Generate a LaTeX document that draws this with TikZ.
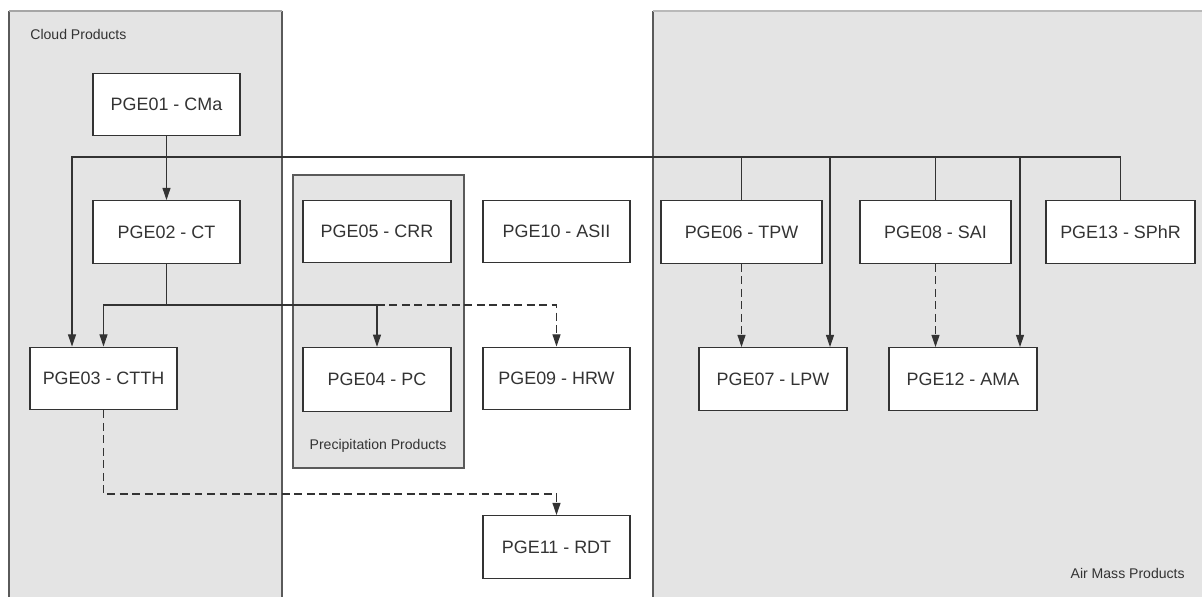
\documentclass[tikz,border=0pt]{standalone}
\usepackage{fontspec}
\setmainfont{Liberation Sans}
\usetikzlibrary{arrows.meta}

\definecolor{panelgray}{HTML}{E4E4E4}
\definecolor{edgegray}{HTML}{5A5A5A}
\definecolor{inkgray}{HTML}{333333}

\tikzset{
  pgebox/.style={draw=inkgray,fill=white,line width=0.8pt,inner sep=0pt,
    minimum width=2.94cm,minimum height=1.25cm,text=inkgray,
    font=\fontsize{10.2}{12}\selectfont},
  grouplabel/.style={inner sep=0pt,text=inkgray,font=\fontsize{8}{10}\selectfont},
  arr/.style={draw=inkgray,line width=0.65pt,-{Triangle[length=7pt,width=4.6pt]}},
  dasharr/.style={arr,dash pattern=on 4.5pt off 2.6pt},
  link/.style={draw=inkgray,line width=0.65pt}
}

\begin{document}
\begin{tikzpicture}[x=0.02cm,y=-0.02cm]
\useasboundingbox (0,0) rectangle (1202,597);

% group panels
\fill[panelgray] (9,11) rectangle (282,597);
\draw[edgegray,line width=0.8pt] (9,597) -- (9,11);
\draw[edgegray,line width=0.8pt] (282,11) -- (282,597);
\draw[gray!70,line width=0.8pt] (9,11) -- (282,11);
\fill[panelgray] (653,11) rectangle (1202,597);
\draw[edgegray,line width=0.8pt] (653,597) -- (653,11);
\draw[gray!55,line width=0.8pt] (653,11) -- (1202,11);
\draw[edgegray,fill=panelgray,line width=0.8pt] (293,175) rectangle (464,468);

\node[grouplabel,anchor=west] (cloudlbl) at (30,34) {Cloud Products};
\node[grouplabel] (preclbl) at (378,446) {Precipitation Products};
\node[grouplabel,anchor=east] (airlbl) at (1185,573) {Air Mass Products};

%---------------------------------

\node[pgebox] (pge01) at (166.5,104.5) {PGE01 - CMa};
\node[pgebox] (pge02) at (166.5,232) {PGE02 - CT};
\node[pgebox] (pge03) at (103.5,378.5) {PGE03 - CTTH};
\node[pgebox,minimum width=2.96cm] (pge05) at (377,231.5) {PGE05 - CRR};
\node[pgebox,minimum width=2.96cm,minimum height=1.28cm] (pge04) at (377,379.5) {PGE04 - PC};
\node[pgebox] (pge10) at (556.5,231.5) {PGE10 - ASII};
\node[pgebox] (pge09) at (556.5,378.5) {PGE09 - HRW};
\node[pgebox] (pge11) at (556.5,547) {PGE11 - RDT};
\node[pgebox,minimum width=3.22cm] (pge06) at (741.5,232) {PGE06 - TPW};
\node[pgebox,minimum width=3.02cm] (pge08) at (935.5,232) {PGE08 - SAI};
\node[pgebox,minimum width=2.98cm] (pge13) at (1120.5,232) {PGE13 - SPhR};
\node[pgebox,minimum width=2.96cm] (pge07) at (773,379) {PGE07 - LPW};
\node[pgebox,minimum width=2.96cm] (pge12) at (963,379) {PGE12 - AMA};

%---------------------------------

% common line on top
\coordinate (busl) at (72,157);
\coordinate (b07) at (830,157);
\coordinate (b12) at (1020,157);
\draw[arr] (pge13.north) |- (busl) -- (busl |- pge03.north);
\draw[link] (pge06.north) -- (pge06.north |- busl);
\draw[link] (pge08.north) -- (pge08.north |- busl);
\draw[arr] (b07) -- (b07 |- pge07.north);
\draw[arr] (b12) -- (b12 |- pge12.north);

\draw[arr] (pge01) -- (pge02);

% from CT
\coordinate (j02) at (166.5,305);
\draw[link] (pge02) -- (j02);
\draw[arr] (j02) -| (pge03.north);
\draw[arr] (j02) -| (pge04.north);
\draw[dasharr] (pge04.north |- j02) -| (pge09.north);

% from CTTH
\coordinate (j03) at (103.5,494);
\draw[dasharr] (pge03) -- (j03) -| (pge11.north);

\draw[dasharr] (pge06) -- (pge06 |- pge07.north);
\draw[dasharr] (pge08) -- (pge08 |- pge12.north);

\end{tikzpicture}
\end{document}
